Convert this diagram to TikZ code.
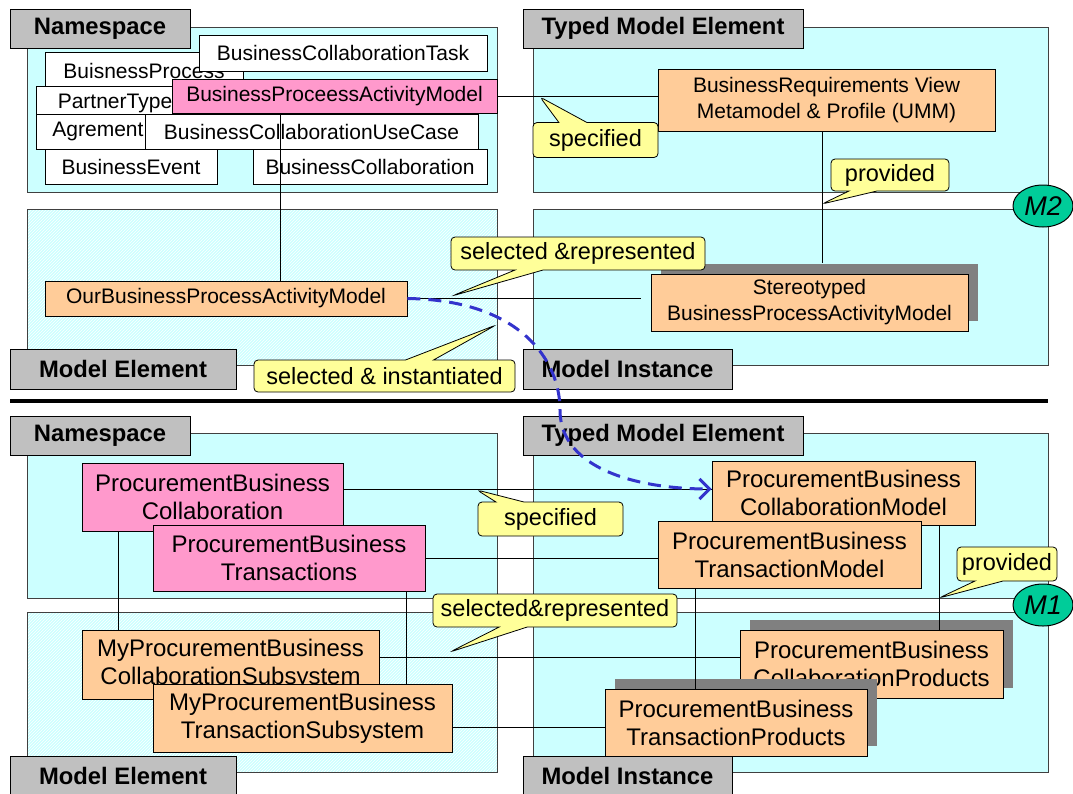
\documentclass[tikz,border=0pt]{standalone}
\usepackage{fontspec}
\setmainfont{Liberation Sans}
\usetikzlibrary{shapes.geometric,shapes.callouts,shadows,patterns,arrows.meta}
\definecolor{panelcyan}{HTML}{CCFFFF}
\definecolor{taggray}{HTML}{C0C0C0}
\definecolor{pinkfill}{HTML}{FF99CC}
\definecolor{orangefill}{HTML}{FFCC99}
\definecolor{notefill}{HTML}{FFFF99}
\definecolor{levelgreen}{HTML}{00CC99}
\definecolor{flowblue}{HTML}{3333CC}
\definecolor{panelline}{HTML}{404040}

\begin{document}
\begin{tikzpicture}[x=1pt,y=-1pt,
  panel/.style={draw=panelline,fill=panelcyan,line width=1pt},
  hatched/.style={draw=panelline,line width=1pt,preaction={fill=panelcyan},pattern=north east lines,pattern color=white},
  tag/.style={draw=black,fill=taggray,line width=1pt,inner sep=0pt,font=\fontsize{23.8}{28}\selectfont\bfseries},
  elem/.style={draw=black,fill=white,line width=0.8pt,inner sep=0pt,font=\fontsize{21}{26}\selectfont},
  pinkbox/.style={elem,fill=pinkfill},
  orangebox/.style={elem,fill=orangefill,align=center},
  bigorange/.style={orangebox,font=\fontsize{24}{28}\selectfont},
  bigpink/.style={bigorange,fill=pinkfill},
  shadowed/.style={drop shadow={shadow xshift=10pt,shadow yshift=10pt,fill=black!50,opacity=1}},
  note/.style={rectangle callout,draw=black,fill=notefill,rounded corners=4pt,line width=0.8pt,inner sep=0pt,callout pointer width=28pt,font=\fontsize{23.5}{28}\selectfont},
  level/.style={ellipse,draw=black,fill=levelgreen,line width=1pt,minimum width=60,minimum height=42,inner sep=0pt,font=\fontsize{27}{30}\selectfont\itshape},
  flow/.style={flowblue,line width=3pt,dash pattern=on 13pt off 8pt,-{Straight Barb[length=10pt,width=20pt]}}
]
\useasboundingbox[fill=white] (0,0) rectangle (1073,793);

\draw[panel] (27,27) rectangle (497,192);
\draw[panel] (533,27) rectangle (1048,192);
\draw[hatched] (27,209) rectangle (497,365);
\draw[panel] (533,209) rectangle (1048,365);
\node (nsA) at (100,28.5) [tag,minimum width=180,minimum height=39] {Namespace};
\node (tmeA) at (663,28.5) [tag,minimum width=280,minimum height=39] {Typed Model Element};
\node (meA) at (123,369) [tag,minimum width=226,minimum height=40] {Model Element};
\node (miA) at (627.5,369) [tag,minimum width=209,minimum height=40] {Model Instance};

\node (bp) at (144,70.5) [elem,minimum width=198,minimum height=37] {BuisnessProcess};
\node (bct) at (343,53) [elem,minimum width=288,minimum height=36] {BusinessCollaborationTask};
\node (ptype) at (115,103.5) [elem,minimum width=158,minimum height=35] {PartnerType};
\node (bpam) at (334.5,96) [pinkbox,minimum width=325,minimum height=34] {BusinessProceessActivityModel};
\node (agr) at (98,131.5) [elem,minimum width=124,minimum height=35] {Agrement};
\node (bcuc) at (311.5,131.5) [elem,minimum width=333,minimum height=35] {BusinessCollaborationUseCase};
\node (bev) at (131,166.5) [elem,minimum width=172,minimum height=35] {BusinessEvent};
\node (bco) at (370,166.5) [elem,minimum width=234,minimum height=35] {BusinessCollaboration};

\node (obpam) at (226,298.5) [orangebox,minimum width=362,minimum height=35] {OurBusinessProcessActivityModel};
\node (brv) at (826.5,100) [orangebox,minimum width=337,minimum height=62] {BusinessRequirements View\\Metamodel \& Profile (UMM)};
\node (ster) at (809.5,302.5) [orangebox,shadowed,minimum width=317,minimum height=57] {Stereotyped\\BusinessProcessActivityModel};
\coordinate (sterTop) at ([yshift=11pt]ster.north);

\draw (bpam.east) -- (bpam.east -| brv.west);
\draw ([xshift=-54.5pt]bpam.south) -- ([xshift=-54.5pt]bpam.south |- obpam.north);
\draw ([xshift=-4.5pt]brv.south) -- ([xshift=-4.5pt]brv.south |- sterTop);
\draw (obpam.east) -- ([xshift=-10pt]obpam.east -| ster.west);

\coordinate (tipSpecA) at (540,97);
\coordinate (tipProvA) at (822,204);
\coordinate (tipRepA) at (452,296);
\coordinate (tipInst) at (496,325);
\node (specA) at (595.5,140) [note,minimum width=125,minimum height=35,callout absolute pointer={(tipSpecA)}] {specified};
\node (provA) at (890,175) [note,minimum width=118,minimum height=32,callout absolute pointer={(tipProvA)}] {provided};
\node (repA) at (578,253.5) [note,minimum width=254,minimum height=33,callout absolute pointer={(tipRepA)}] {selected \&represented};
\node (inst) at (384.5,376) [note,minimum width=261,minimum height=32,callout absolute pointer={(tipInst)}] {selected \& instantiated};
\node (m2) at (1043,206) [level] {M2};

\draw[line width=4pt] (10,401) -- (1048,401);

\draw[panel] (27,433) rectangle (497,598);
\draw[panel] (533,433) rectangle (1048,598);
\draw[hatched] (27,612) rectangle (497,772);
\draw[panel] (533,612) rectangle (1048,772);
\node (nsB) at (100,435.5) [tag,minimum width=180,minimum height=39] {Namespace};
\node (tmeB) at (663,435.5) [tag,minimum width=280,minimum height=39] {Typed Model Element};
\node (meB) at (123,776) [tag,minimum width=226,minimum height=40] {Model Element};
\node (miB) at (627.5,776) [tag,minimum width=209,minimum height=40] {Model Instance};

\node (pbc) at (212.5,497) [bigpink,minimum width=261,minimum height=68] {ProcurementBusiness\\Collaboration};
\node (pbt) at (289,558) [bigpink,minimum width=272,minimum height=66] {ProcurementBusiness\\Transactions};
\node (bcm) at (843.5,493) [bigorange,minimum width=263,minimum height=64] {ProcurementBusiness\\CollaborationModel};
\node (ptm) at (789.5,554.5) [bigorange,minimum width=263,minimum height=67] {ProcurementBusiness\\TransactionModel};
\node (mpbcs) at (230.5,664.5) [bigorange,minimum width=297,minimum height=69] {MyProcurementBusiness\\CollaborationSubsystem};
\node (mpbts) at (302.5,718) [bigorange,minimum width=299,minimum height=68] {MyProcurementBusiness\\TransactionSubsystem};
\node (pcp) at (871.5,664) [bigorange,shadowed,minimum width=263,minimum height=68] {ProcurementBusiness\\CollaborationProducts};
\node (ptp) at (736,722.5) [bigorange,shadowed,minimum width=262,minimum height=67] {ProcurementBusiness\\TransactionProducts};

\draw ([yshift=8pt]pbc.east) -- ([yshift=8pt]pbc.east -| bcm.west);
\draw (pbt.east) -- (pbt.east -| ptm.west);
\draw ([yshift=7.5pt]mpbcs.east) -- ([yshift=7.5pt]mpbcs.east -| pcp.west);
\draw ([yshift=-9pt]mpbts.east) -- ([yshift=-9pt]mpbts.east -| ptp.west);
\draw ([xshift=-94.5pt]pbc.south) -- ([xshift=-94.5pt]pbc.south |- mpbcs.north);
\draw ([xshift=117pt]pbt.south) -- ([xshift=117pt]pbt.south |- mpbts.north);
\draw ([xshift=95.5pt]bcm.south) -- ([xshift=95.5pt]bcm.south |- pcp.north);
\draw ([xshift=-94.5pt]ptm.south) -- ([xshift=-94.5pt]ptm.south |- ptp.north);

\coordinate (tipSpecB) at (477,490);
\coordinate (tipRepB) at (450,652);
\coordinate (tipProvB) at (939,598);
\node (specB) at (550.5,519) [note,minimum width=145,minimum height=34,callout absolute pointer={(tipSpecB)}] {specified};
\node (repB) at (555,610.5) [note,minimum width=244,minimum height=33,callout absolute pointer={(tipRepB)}] {selected\&represented};
\node (provB) at (1007,564) [note,minimum width=100,minimum height=34,callout absolute pointer={(tipProvB)}] {provided};
\node (m1) at (1043,605) [level] {M1};

\draw[flow] (obpam.east) .. controls (520,300) and (560,360) .. (560,410) .. controls (560,470) and (640,489) .. ([yshift=4pt]bcm.west);
\end{tikzpicture}
\end{document}
